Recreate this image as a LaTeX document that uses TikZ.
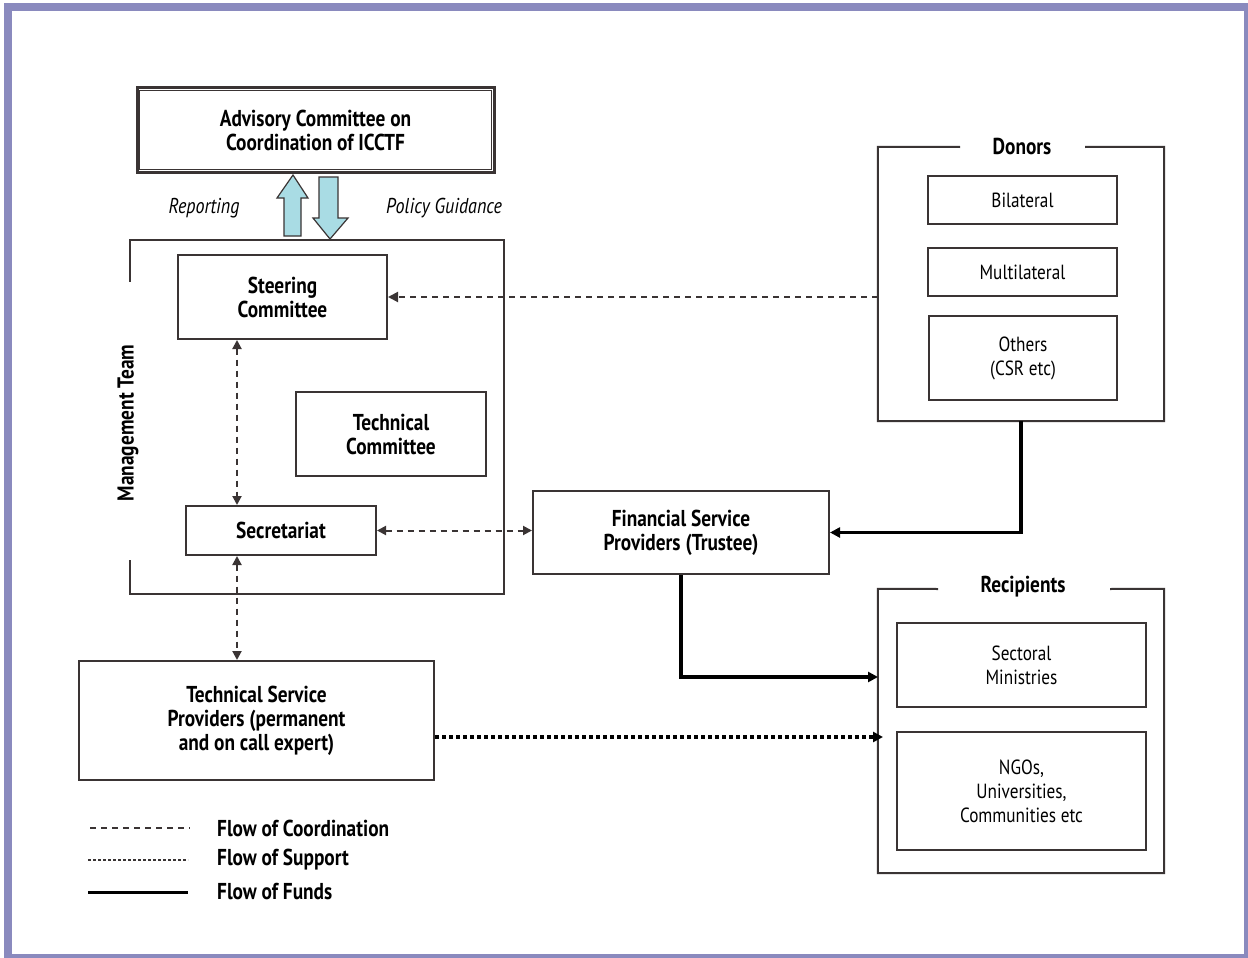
\documentclass[tikz,border=0pt]{standalone}
\usepackage{fontspec}
\setmainfont{PT Sans}[FakeStretch=0.84]
\usetikzlibrary{arrows.meta}
\definecolor{framepurple}{HTML}{8A8ABE}
\definecolor{boxline}{HTML}{3A3434}
\definecolor{arrowblue}{HTML}{A9DCE4}
\begin{document}
\begin{tikzpicture}[x=1pt,y=-1pt,
  box/.style={draw=boxline, line width=2pt, align=center, font=\fontsize{23}{24}\selectfont\bfseries, inner sep=0pt},
  subbox/.style={draw=boxline, line width=2pt, align=center, font=\fontsize{20.5}{24}\selectfont, inner sep=0pt},
  area/.style={draw=none, inner sep=0pt},
  grouptitle/.style={font=\fontsize{23}{24}\selectfont\bfseries, inner sep=0pt},
  frameline/.style={draw=boxline, line width=2pt},
  coordline/.style={draw=boxline, line width=2pt, dash pattern=on 6pt off 5pt},
  supportline/.style={draw=black, line width=4pt, dash pattern=on 3.5pt off 3.5pt},
  fundline/.style={draw=black, line width=3.5pt},
  tip/.style={-{Triangle[length=10pt,width=10pt]}},
  tips/.style={{Triangle[length=9pt,width=9pt]}-{Triangle[length=9pt,width=9pt]}},
  bigarrow/.style={draw=boxline, line width=1.2pt, fill=arrowblue, line join=miter},
  lbl/.style={font=\fontsize{21.5}{24}\selectfont\itshape, inner sep=0pt},
  legendtext/.style={font=\fontsize{23}{24}\selectfont\bfseries, anchor=west, inner sep=0pt}
]
\useasboundingbox (0,0) rectangle (1248,958);
\fill[white] (0,0) rectangle (1248,958);
\draw[framepurple, line width=8pt] (8,7) rectangle (1248,958);

% Advisory committee (double border)
\node[box, line width=3pt, minimum width=357, minimum height=84] (advisory) at (315.5,130) {Advisory Committee on\\Coordination of ICCTF};
\draw[boxline, line width=1.2pt] ([xshift=4pt,yshift=-4pt]advisory.north west) rectangle ([xshift=-4pt,yshift=4pt]advisory.south east);

% Management team frame
\node[area, minimum width=374, minimum height=354] (mgmt) at (317,417) {};
\draw[frameline] (mgmt.north west) ++(0,42) -- (mgmt.north west) -- (mgmt.north east) -- (mgmt.south east) -- (mgmt.south west) -- ++(0,-34);
\node[grouptitle, rotate=90] (mgmtlabel) at (128,423) {Management Team};

% Big arrows
\draw[bigarrow] (293,175) -- (308,198) -- (301,198) -- (301,236) -- (284,236) -- (284,198) -- (277,198) -- cycle;
\draw[bigarrow] (330,239) -- (348,218) -- (338,218) -- (338,177) -- (319,177) -- (319,218) -- (313,218) -- cycle;
\node[lbl] (reporting) at (204,208) {Reporting};
\node[lbl] (policy) at (444,208) {Policy Guidance};

% Inner boxes
\node[box, minimum width=209, minimum height=84] (steering) at (282.5,297) {Steering\\Committee};
\node[box, minimum width=190, minimum height=84] (technical) at (391,434) {Technical\\Committee};
\node[box, minimum width=190, minimum height=49] (secretariat) at (281,530.5) {Secretariat};
\node[box, minimum width=296, minimum height=83] (fsp) at (681,532.5) {Financial Service\\Providers (Trustee)};
\node[box, minimum width=355, minimum height=119] (tsp) at (256.5,720.5) {Technical Service\\Providers (permanent\\and on call expert)};

% Donors
\node[area, minimum width=286, minimum height=274] (donors) at (1021,284) {};
\draw[frameline] (960,147) -- (donors.north west) -- (donors.south west) -- (donors.south east) -- (donors.north east) -- (1085,147);
\node[grouptitle] (donorstitle) at (1022,146) {Donors};
\node[subbox, minimum width=189, minimum height=48] (bilateral) at (1022.5,200) {Bilateral};
\node[subbox, minimum width=189, minimum height=48] (multilateral) at (1022.5,272) {Multilateral};
\node[subbox, minimum width=188, minimum height=84] (others) at (1023,358) {Others\\(CSR etc)};

% Recipients
\node[area, minimum width=286, minimum height=284] (recip) at (1021,731) {};
\draw[frameline] (938,589) -- (recip.north west) -- (recip.south west) -- (recip.south east) -- (recip.north east) -- (1110,589);
\node[grouptitle] (reciptitle) at (1023,587) {Recipients};
\node[subbox, minimum width=249, minimum height=84] (sectoral) at (1021.5,665) {Sectoral\\Ministries};
\node[subbox, minimum width=249, minimum height=118] (ngos) at (1021.5,791) {NGOs,\\Universities,\\Communities etc};

% Connectors
\coordinate (sx) at (237,0);
\coordinate (rin) at (878,677);
\coordinate (sin) at (883,737);
\draw[coordline, tip] (donors.west |- steering.east) -- (steering.east);
\draw[coordline, tips] (steering.south -| sx) -- (secretariat.north -| sx);
\draw[coordline, tips] (secretariat.south -| sx) -- (tsp.north -| sx);
\draw[coordline, tips] (secretariat.east) -- (secretariat.east -| fsp.west);
\draw[fundline, tip] (donors.south) |- (fsp.east);
\draw[fundline, tip] (fsp.south) |- (rin);
\draw[supportline, tip] (tsp.east |- sin) -- (sin);

% Legend
\coordinate (l1a) at (90,828); \coordinate (l1b) at (190,828);
\coordinate (l2a) at (88,860); \coordinate (l2b) at (188,860);
\coordinate (l3a) at (88,892); \coordinate (l3b) at (188,892);
\draw[boxline, line width=1.5pt, dash pattern=on 6pt off 5pt] (l1a) -- (l1b);
\draw[boxline, line width=2.5pt, dash pattern=on 2.5pt off 2.5pt] (l2a) -- (l2b);
\draw[black, line width=3pt] (l3a) -- (l3b);
\node[legendtext] (leg1) at (217,828) {Flow of Coordination};
\node[legendtext] (leg2) at (217,860) {Flow of Support};
\node[legendtext] (leg3) at (217,892) {Flow of Funds};
\end{tikzpicture}
\end{document}
